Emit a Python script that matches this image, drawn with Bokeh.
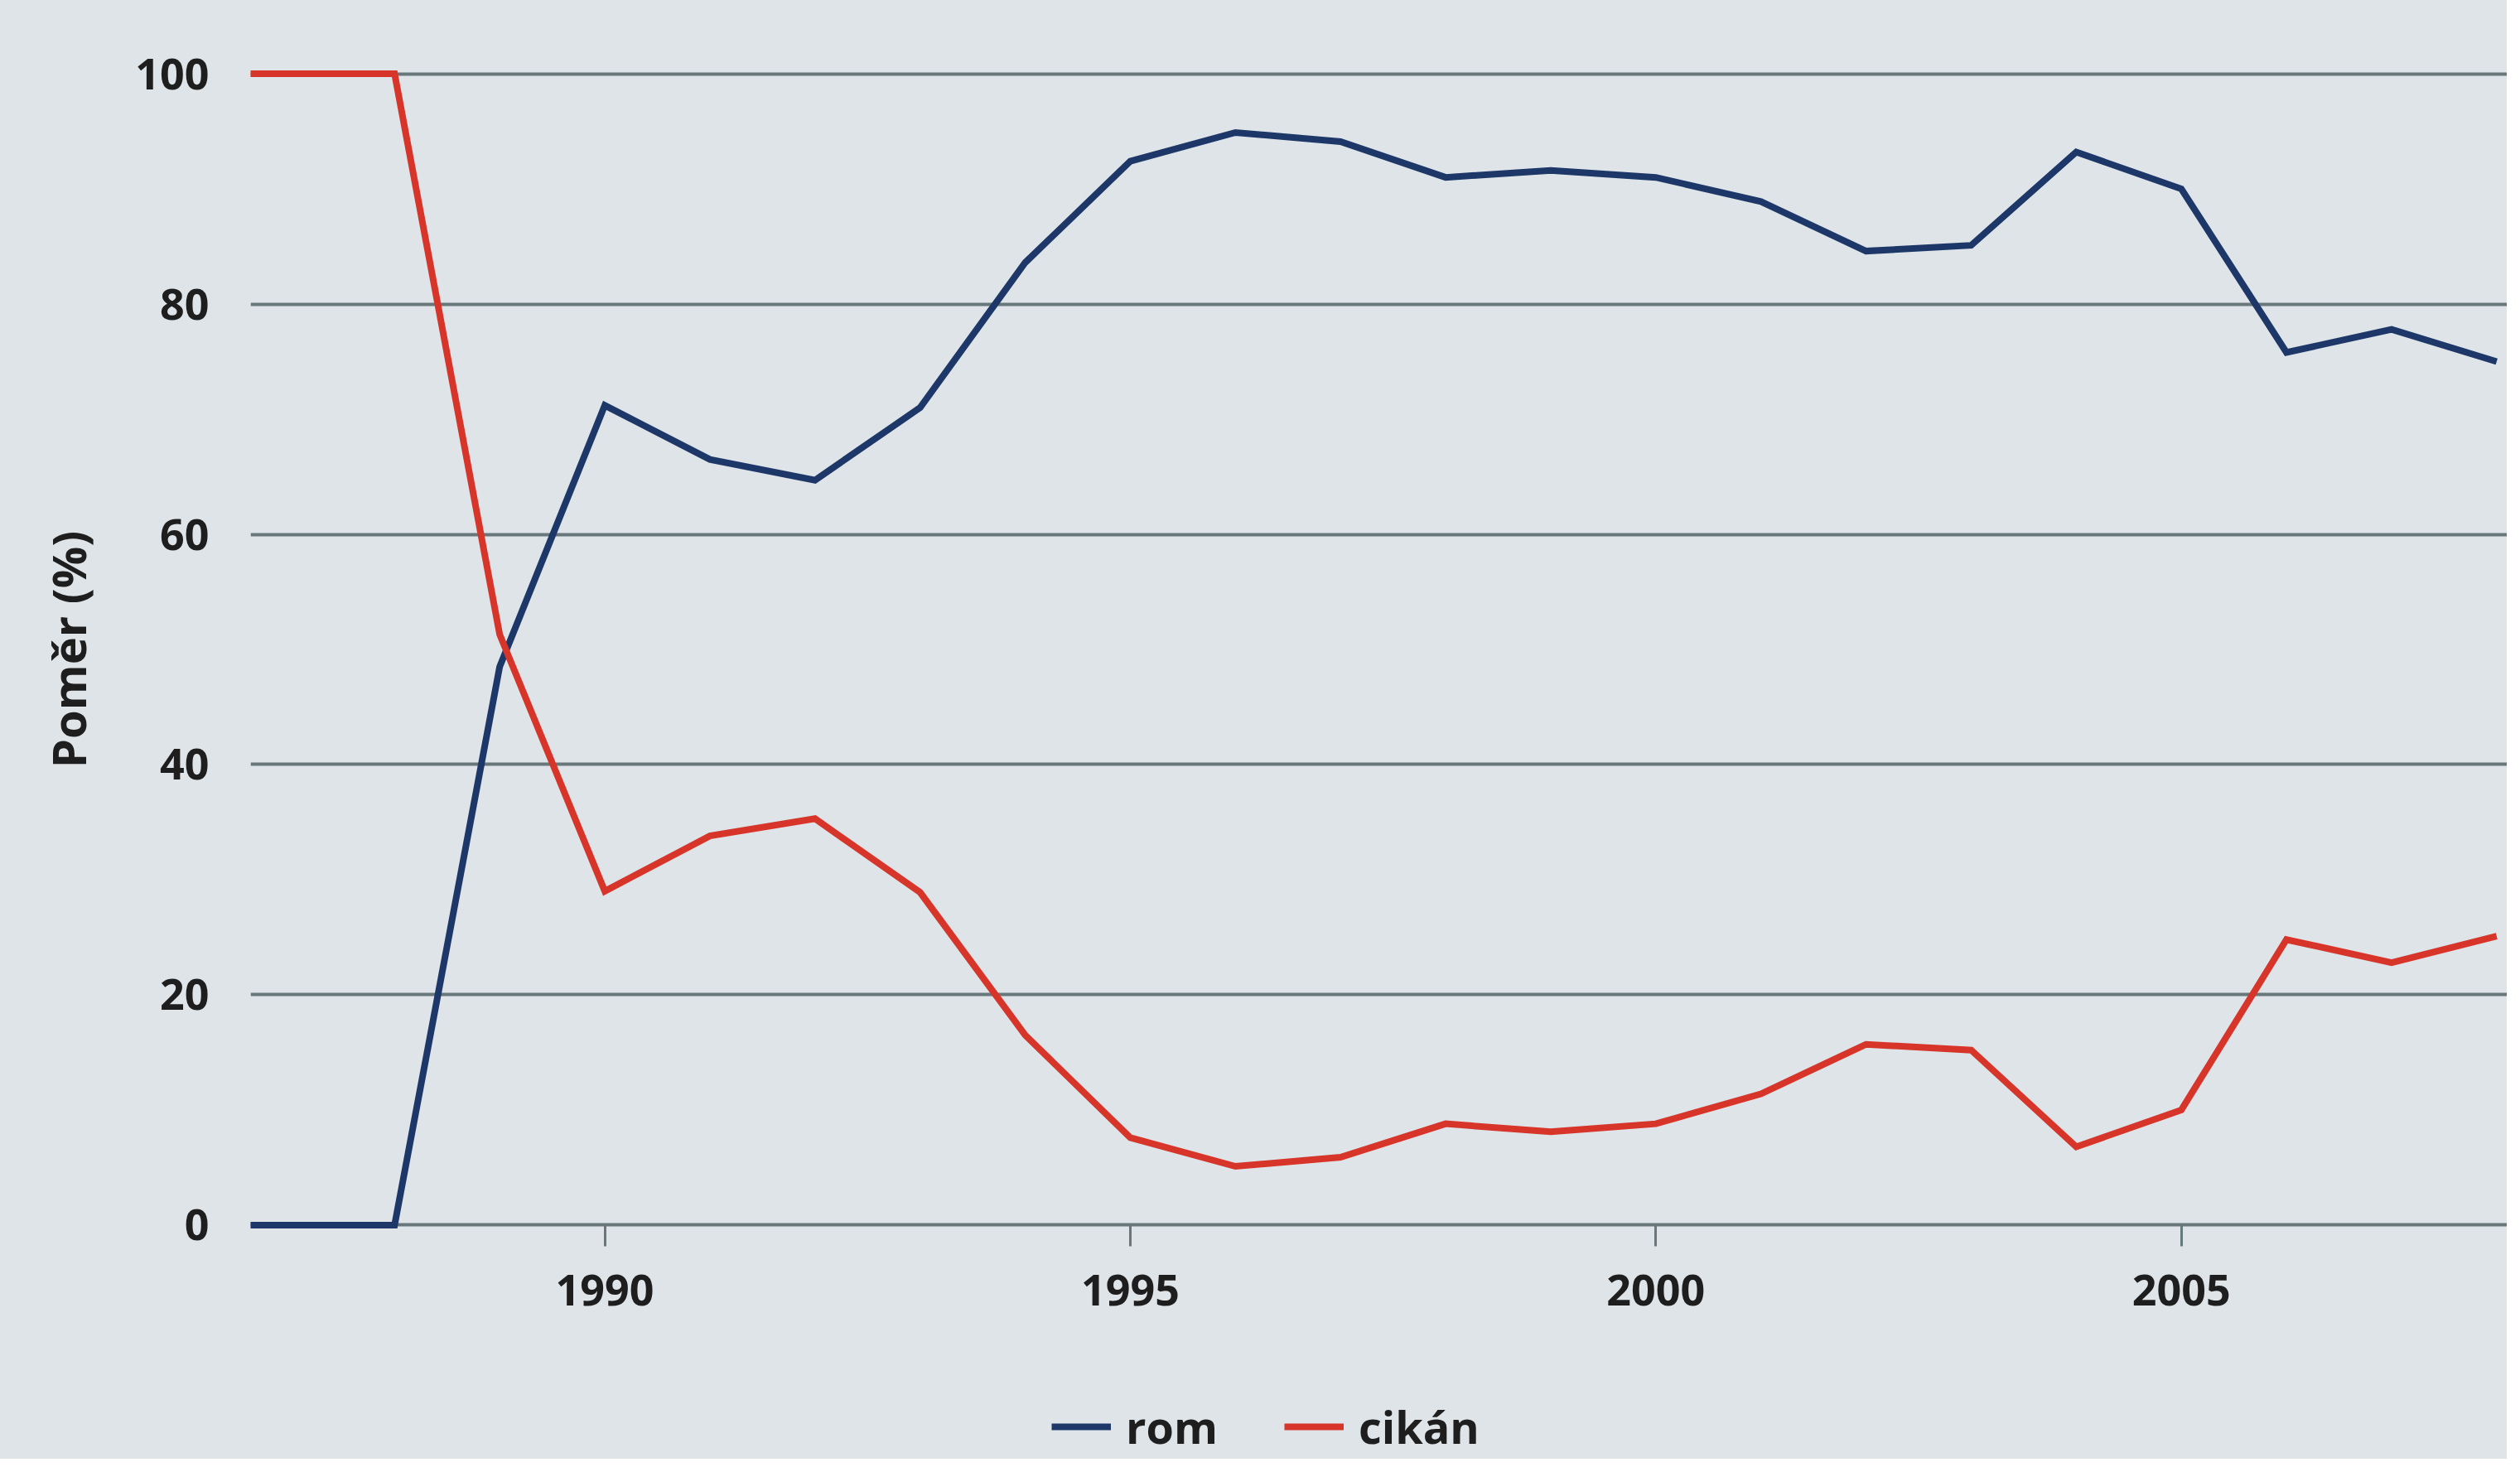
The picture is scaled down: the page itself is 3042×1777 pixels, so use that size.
from bokeh.plotting import figure
from bokeh.layouts import column
from bokeh.models import Range1d, FixedTicker, Legend, LegendItem
from bokeh.embed import file_html
from bokeh.resources import INLINE

years = list(range(1986, 2009))
rom = [0, 0, 0, 48.5, 71.2, 66.5, 64.7, 71.0, 83.6, 92.4, 94.9, 94.1, 91.0, 91.6,
       91.0, 88.9, 84.6, 85.1, 93.2, 90.0, 75.8, 77.8, 75.0]
cikan = [100, 100, 100, 51.3, 29.0, 33.8, 35.3, 28.9, 16.5, 7.6, 5.1, 5.9, 8.8, 8.1,
         8.8, 11.4, 15.7, 15.2, 6.8, 10.0, 24.8, 22.8, 25.1]
x_ticks = [1990, 1995, 2000, 2005]
y_ticks = [0, 20, 40, 60, 80, 100]
series_names = ["rom", "cikán"]
y_label = "Poměr (%)"

BG = "#dfe4e8"
BLUE = "#1d3868"
RED = "#d8352a"
GRID = "#68777a"
TEXT = "#1e1e1e"

W = 3026
H_MAIN = 1640
H_LEG = 1761 - H_MAIN

p = figure(width=W, height=H_MAIN, output_backend="svg", toolbar_location=None,
           x_range=Range1d(1986.63, 2008.1), y_range=Range1d(-0.4, 100.4),
           min_border_left=302, min_border_right=0, min_border_top=83,
           min_border_bottom=H_MAIN - 1484)
p.background_fill_alpha = 0
p.border_fill_alpha = 0
p.outline_line_color = None

# grid
p.xgrid.grid_line_color = None
p.ygrid.ticker = FixedTicker(ticks=y_ticks)
p.ygrid.grid_line_color = GRID
p.ygrid.grid_line_width = 4

# axes
p.xaxis.ticker = FixedTicker(ticks=x_ticks)
p.xaxis.axis_line_color = None
p.xaxis.major_tick_line_color = GRID
p.xaxis.major_tick_line_width = 3
p.xaxis.major_tick_in = 6
p.xaxis.major_tick_out = 20
p.xaxis.minor_tick_line_color = None
p.xaxis.major_label_text_font = "Open Sans"
p.xaxis.major_label_text_font_style = "bold"
p.xaxis.major_label_text_font_size = "52px"
p.xaxis.major_label_text_color = TEXT
p.xaxis.major_label_standoff = 34

p.yaxis.ticker = FixedTicker(ticks=y_ticks)
p.yaxis.axis_line_color = None
p.yaxis.major_tick_line_color = None
p.yaxis.minor_tick_line_color = None
p.yaxis.major_tick_out = 0
p.yaxis.major_tick_in = 0
p.yaxis.major_label_text_font = "Open Sans"
p.yaxis.major_label_text_font_style = "bold"
p.yaxis.major_label_text_font_size = "52px"
p.yaxis.major_label_text_color = TEXT
p.yaxis.major_label_standoff = 50
p.yaxis.axis_label = y_label
p.yaxis.axis_label_text_font = "Open Sans"
p.yaxis.axis_label_text_font_style = "bold"
p.yaxis.axis_label_text_font_size = "56px"
p.yaxis.axis_label_text_color = TEXT
p.yaxis.axis_label_standoff = 40

p.line(years, rom, line_color=BLUE, line_width=8, line_join="miter")
p.line(years, cikan, line_color=RED, line_width=8, line_join="miter")

# legend strip (separate figure so the legend is not clipped)
lf = figure(width=W, height=H_LEG, output_backend="svg", toolbar_location=None,
            x_range=Range1d(0, 1), y_range=Range1d(0, 1),
            min_border=0, min_border_left=0, min_border_right=0,
            min_border_top=0, min_border_bottom=0)
lf.axis.visible = False
lf.grid.visible = False
lf.outline_line_color = None
lf.background_fill_alpha = 0
lf.border_fill_alpha = 0
# same series, outside this strip's ranges: only their legend swatches show
l1 = lf.line(years, rom, line_color=BLUE, line_width=8)
l2 = lf.line(years, cikan, line_color=RED, line_width=8)

legend = Legend(items=[LegendItem(label=series_names[0], renderers=[l1]),
                       LegendItem(label=series_names[1], renderers=[l2])],
                orientation="horizontal", location=(967, 2),
                background_fill_alpha=0, border_line_color=None,
                padding=0, margin=0, spacing=80, label_standoff=18,
                glyph_width=72, glyph_height=30,
                label_text_font="Open Sans", label_text_font_style="bold",
                label_text_font_size="54px", label_text_color=TEXT)
lf.add_layout(legend, "center")

layout = column(p, lf, spacing=0, styles={"background-color": BG})
open("out.html", "w").write(file_html(layout, INLINE))
